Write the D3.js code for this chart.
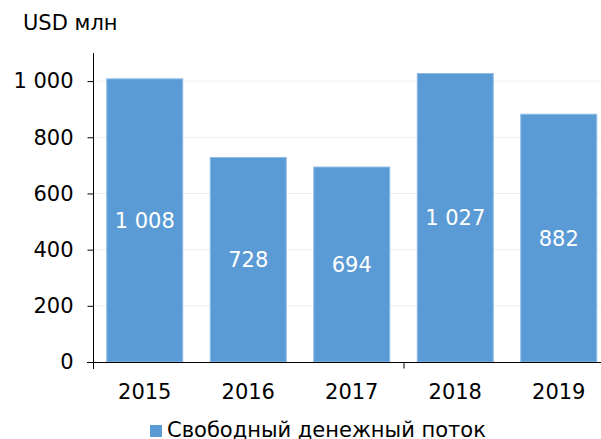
<!DOCTYPE html>
<html><head><meta charset="utf-8">
<script src="https://cdn.jsdelivr.net/npm/d3@7"></script>
<style>body{margin:0;background:#fff}svg{display:block}text{font-family:"DejaVu Sans",Verdana,sans-serif}</style>
</head><body>
<svg id="c" width="601" height="439"></svg>
<script>
const categories = ["2015","2016","2017","2018","2019"];
const values = [1008, 728, 694, 1027, 882];
const labels = ["1 008","728","694","1 027","882"];
const yTicks = [0,200,400,600,800,1000];
const yTickLabels = ["0","200","400","600","800","1 000"];
const unitLabel = "USD млн";
const seriesName = "Свободный денежный поток";

const svg = d3.select("#c");
const x = d3.scaleBand().domain(categories).range([93, 610.5]).paddingInner(0.266).paddingOuter(0.133);
const y = d3.scaleLinear().domain([0, 1100]).range([362, 53]);
const fs = 21;

// gridlines
svg.append("g").selectAll("line").data(yTicks.slice(1)).join("line")
  .attr("x1", 93).attr("x2", 601).attr("y1", d => y(d)).attr("y2", d => y(d))
  .attr("stroke", "#efefef").attr("stroke-width", 1);

// bars
svg.append("g").selectAll("rect").data(values).join("rect")
  .attr("x", (d,i) => x(categories[i])).attr("width", x.bandwidth())
  .attr("y", d => y(d)).attr("height", d => y(0) - y(d))
  .attr("fill", "#5b9bd5").attr("stroke", "#8fbbe4").attr("stroke-width", 1);

// data labels
svg.append("g").selectAll("text").data(values).join("text")
  .attr("x", (d,i) => x(categories[i]) + x.bandwidth()/2)
  .attr("y", d => (y(d) + y(0))/2).attr("dy", "0.36em")
  .attr("text-anchor", "middle").attr("fill", "#fff").attr("font-size", fs)
  .text((d,i) => labels[i]);

// y axis
const ya = d3.axisLeft(y).tickValues(yTicks).tickSize(6).tickPadding(14)
  .tickFormat((d,i) => yTickLabels[i]);
const gy = svg.append("g").attr("transform", "translate(93.5,0)").call(ya);
gy.select(".domain").attr("d", "M0,53V369").attr("stroke", "#000");
gy.selectAll(".tick line").attr("stroke", "#000");
gy.selectAll(".tick text").attr("font-size", fs).attr("fill", "#000").attr("font-family", "DejaVu Sans, Verdana, sans-serif");

// x axis
const gx = svg.append("g").attr("transform", "translate(0,362.5)");
gx.append("line").attr("x1", 87).attr("x2", 601).attr("stroke", "#000");
const bstep = x.step();
gx.append("line").attr("x1", x.range()[0] + 3*bstep + 0.5).attr("x2", x.range()[0] + 3*bstep + 0.5)
  .attr("y1", 0).attr("y2", 6).attr("stroke", "#000");
gx.selectAll("text.cat").data(categories).join("text").attr("class","cat")
  .attr("x", d => x(d) + x.bandwidth()/2).attr("y", 36.5)
  .attr("text-anchor", "middle").attr("font-size", fs).attr("fill", "#000").text(d => d);

// unit label
svg.append("text").attr("x", 23).attr("y", 30).attr("font-size", fs).attr("fill", "#000").text(unitLabel);

// legend
svg.append("rect").attr("x", 150).attr("y", 425).attr("width", 12).attr("height", 12).attr("fill", "#5b9bd5");
svg.append("text").attr("x", 167).attr("y", 437).attr("font-size", fs).attr("fill", "#000").text(seriesName);
</script>
</body></html>
